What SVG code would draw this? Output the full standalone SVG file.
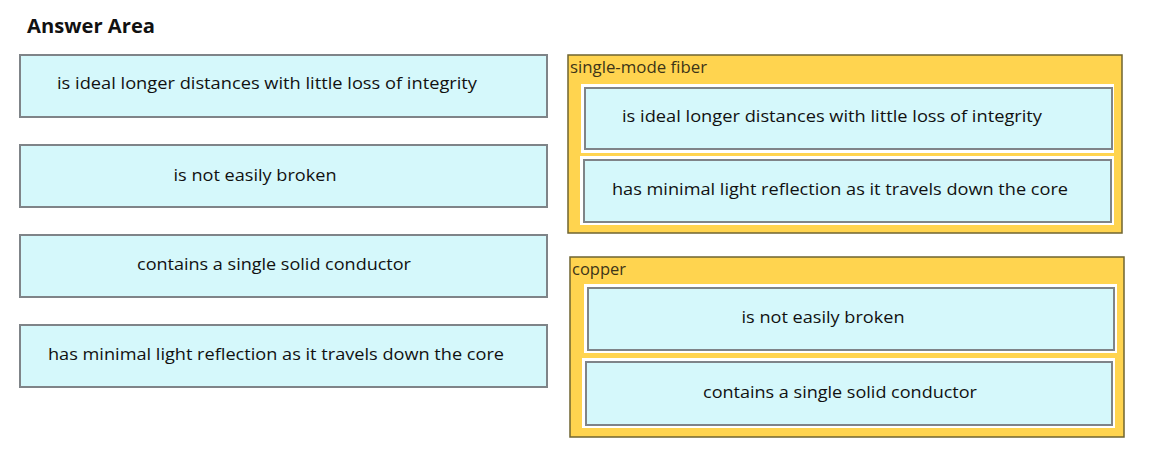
<svg xmlns="http://www.w3.org/2000/svg" width="1152" height="466" viewBox="0 0 1152 466">
<style>
.t{font-family:"Open Sans","Noto Sans","Liberation Sans",sans-serif;font-size:17px;fill:#111;text-anchor:middle}
.box{fill:#d5f8fb;stroke:#7f8488;stroke-width:2}
.wb{fill:#ffffff}
.cont{fill:#ffd44f;stroke:#6f6431;stroke-width:1.5}
.lbl{font-family:"Open Sans","Noto Sans","Liberation Sans",sans-serif;font-size:16px;fill:#3d3418}
.title{font-family:"Open Sans","Noto Sans","Liberation Sans",sans-serif;font-size:19px;font-weight:bold;fill:#111}
</style>
<rect width="1152" height="466" fill="#ffffff"/>
<text class="title" x="27" y="33" textLength="128" lengthAdjust="spacingAndGlyphs">Answer Area</text>
<g id="opt1"><rect class="box" x="20" y="55" width="527" height="62"/><text class="t" x="267" y="89" textLength="420" lengthAdjust="spacingAndGlyphs">is ideal longer distances with little loss of integrity</text></g>
<g id="opt2"><rect class="box" x="20" y="145" width="527" height="62"/><text class="t" x="255" y="181" textLength="163" lengthAdjust="spacingAndGlyphs">is not easily broken</text></g>
<g id="opt3"><rect class="box" x="20" y="235" width="527" height="62"/><text class="t" x="274" y="270" textLength="274" lengthAdjust="spacingAndGlyphs">contains a single solid conductor</text></g>
<g id="opt4"><rect class="box" x="20" y="325" width="527" height="62"/><text class="t" x="276" y="360" textLength="456" lengthAdjust="spacingAndGlyphs">has minimal light reflection as it travels down the core</text></g>
<g id="fiber">
<rect class="cont" x="568" y="55" width="554" height="178"/>
<text class="lbl" x="570" y="73" textLength="137" lengthAdjust="spacingAndGlyphs">single-mode fiber</text>
<g id="fiber1"><rect class="wb" x="581" y="84" width="533" height="69"/><rect class="box" x="585" y="88" width="527" height="61"/><text class="t" x="832" y="122" textLength="420" lengthAdjust="spacingAndGlyphs">is ideal longer distances with little loss of integrity</text></g>
<g id="fiber2"><rect class="wb" x="580" y="156" width="534" height="69"/><rect class="box" x="584" y="160" width="527" height="62"/><text class="t" x="840" y="195" textLength="456" lengthAdjust="spacingAndGlyphs">has minimal light reflection as it travels down the core</text></g>
</g>
<g id="copper">
<rect class="cont" x="570" y="257" width="554" height="180"/>
<text class="lbl" x="572" y="275" textLength="54" lengthAdjust="spacingAndGlyphs">copper</text>
<g id="copper1"><rect class="wb" x="584" y="284" width="533" height="69"/><rect class="box" x="588" y="288" width="526" height="62"/><text class="t" x="823" y="323" textLength="163" lengthAdjust="spacingAndGlyphs">is not easily broken</text></g>
<g id="copper2"><rect class="wb" x="582" y="358" width="533" height="70"/><rect class="box" x="586" y="362" width="526" height="63"/><text class="t" x="840" y="398" textLength="274" lengthAdjust="spacingAndGlyphs">contains a single solid conductor</text></g>
</g>
<g id="connectors"></g>
</svg>
